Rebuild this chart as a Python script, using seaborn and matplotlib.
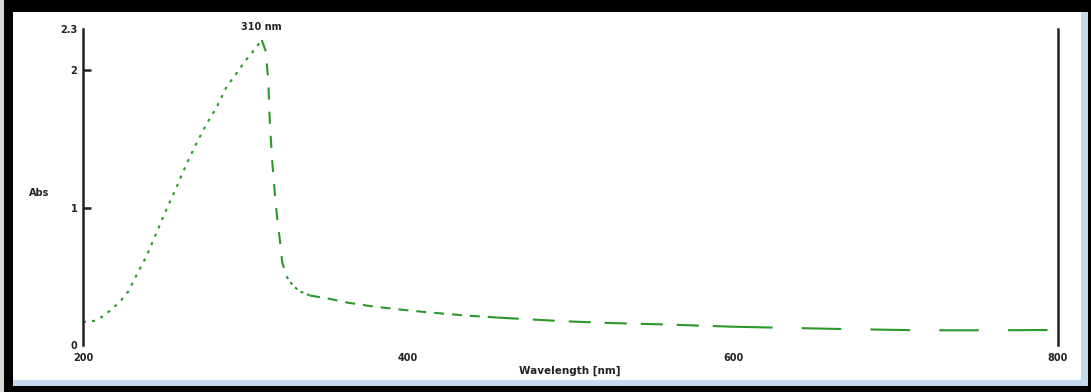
import numpy as np
import pandas as pd
import matplotlib
matplotlib.use("Agg")
import matplotlib.pyplot as plt
from matplotlib.patches import Rectangle
import seaborn as sns

# ---- data ----
wavelength = [200, 201, 207, 212.5, 218.7, 223.8, 227.9, 233, 239.2, 245.3, 251.5, 257.6,
              263.8, 269.9, 276.1, 282.2, 288.4, 294.6, 300.7, 306.9, 310,
              312.4, 314, 315, 316.5, 318.2, 319.6, 321.2, 322.6, 325.3,
              326.3, 329.4, 333.5, 339.7, 350, 362, 378.6, 397, 409.4, 435, 454.6,
              494, 524, 557, 600, 660, 715, 758, 790, 800]
absorbance = [0.165, 0.169, 0.176, 0.21, 0.27, 0.33, 0.39, 0.51, 0.65, 0.82, 0.99, 1.15,
              1.32, 1.47, 1.61, 1.73, 1.88, 1.98, 2.08, 2.17, 2.22,
              2.14, 1.93, 1.61, 1.33, 1.08, 0.91, 0.76, 0.60, 0.50,
              0.48, 0.43, 0.39, 0.36, 0.34, 0.31, 0.28, 0.256, 0.241, 0.215, 0.20,
              0.174, 0.16, 0.15, 0.133, 0.118, 0.107, 0.107, 0.109, 0.108]
x_ticks = [200, 400, 600, 800]
x_tick_labels = ["200", "400", "600", "800"]
y_ticks = [0, 1, 2, 2.3]
y_tick_labels = ["0", "1", "2", "2.3"]
peak_nm = 310
peak_abs = 2.22
x_label = "Wavelength [nm]"
y_label = "Abs"

df = pd.DataFrame({"wavelength": wavelength, "absorbance": absorbance})

W, H = 1091, 392
fig = plt.figure(figsize=(W / 100, H / 100), dpi=100, facecolor="black")
sns.set_style("white")
plt.rcParams["font.family"] = ["DejaVu Sans"]

# window frame decoration (drawn beneath the axes)
fig.patches.append(Rectangle((0, 0), 4 / W, 1, transform=fig.transFigure,
                             facecolor="#d8d8d8", edgecolor="none", zorder=-3))
fig.patches.append(Rectangle((13 / W, 6 / H), (1088 - 13) / W, (386 - 12) / H,
                             transform=fig.transFigure, facecolor="#c5d9ee",
                             edgecolor="none", zorder=-3))
fig.patches.append(Rectangle((13 / W, 12 / H), (1081 - 13) / W, (380 - 12) / H,
                             transform=fig.transFigure, facecolor="white",
                             edgecolor="none", zorder=-2))

ax = fig.add_axes([83 / W, 47 / H, (1058 - 83) / W, (345 - 29) / H])
ax.set_facecolor("none")

green = "#2a982a"
# line-style regions (inclusive wavelength bounds)
segments = [
    (200, 310, (0, (1.45, 2.9))),
    (310, 325.3, (0, (5.8, 5.8))),
    (325.3, 339.7, (0, (1.45, 1.9))),
    (339.7, 454.6, (0, (4.8, 3.8))),
    (454.6, 600, (0, (10.6, 6.7))),
    (600, 800, (0, (19, 14))),
]
for lo, hi, ls in segments:
    sub = df[(df["wavelength"] >= lo) & (df["wavelength"] <= hi)]
    sns.lineplot(data=sub, x="wavelength", y="absorbance", ax=ax, color=green,
                 lw=1.5, linestyle=ls, sort=False, estimator=None)

ax.set_xlim(200, 800)
ax.set_ylim(0, 2.3)

for side in ["top", "bottom"]:
    ax.spines[side].set_visible(False)
for side in ["left", "right"]:
    ax.spines[side].set_color("#222222")
    ax.spines[side].set_linewidth(1.8)

ax.set_xticks(x_ticks)
ax.set_xticklabels(x_tick_labels)
ax.set_yticks(y_ticks)
ax.set_yticklabels(y_tick_labels)
ax.tick_params(axis="x", length=0, pad=6, labelsize=7, colors="#222222")
ax.tick_params(axis="y", direction="in", length=6, width=1.8, pad=4,
               labelsize=7, colors="#222222", left=True, right=False)
for t, v in zip(ax.yaxis.get_major_ticks(), y_ticks):
    if v in (0, 2.3):
        t.tick1line.set_visible(False)
for lab in ax.get_xticklabels() + ax.get_yticklabels():
    lab.set_fontweight("bold")
ax.set_xticks([500], minor=True)
ax.tick_params(axis="x", which="minor", direction="in", length=1.5, width=2,
               colors="#222222")

ax.set_xlabel("")
ax.set_ylabel("")
fig.text(39 / W, 1 - 193 / H, y_label, fontsize=7, fontweight="bold",
         ha="center", va="center", color="#222222")
fig.text(570 / W, 1 - 371 / H, x_label, fontsize=7.5, fontweight="bold",
         ha="center", va="center", color="#222222")
ax.annotate(f"{peak_nm} nm", xy=(peak_nm, peak_abs), xytext=(0, 6),
            textcoords="offset points", ha="center", va="bottom",
            fontsize=7, fontweight="bold", color="#222222", annotation_clip=False)

fig.savefig("out.png", dpi=100, facecolor=fig.get_facecolor())
